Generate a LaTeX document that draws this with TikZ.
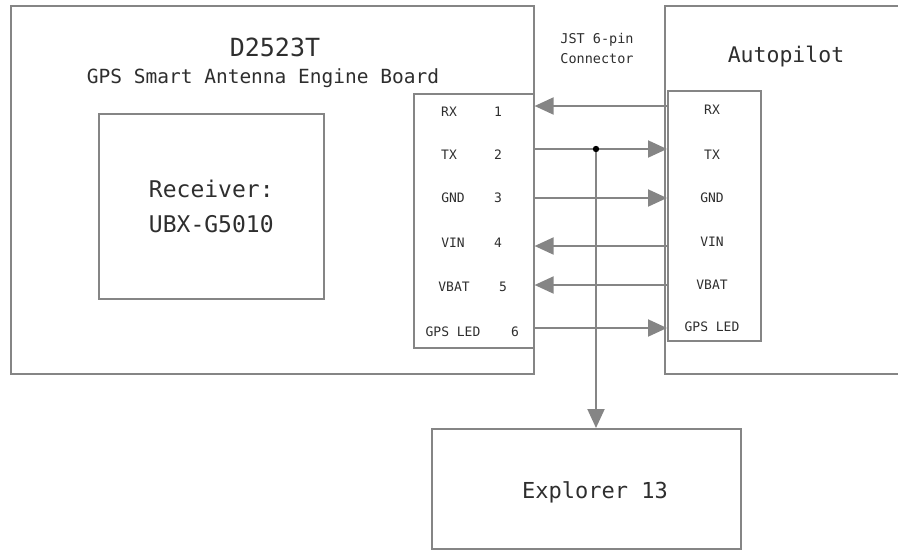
\documentclass[tikz,border=0pt]{standalone}
\usepackage{fontspec}
\setmonofont{DejaVu Sans Mono}
\usetikzlibrary{arrows.meta}
\definecolor{linegray}{HTML}{858585}
\definecolor{textgray}{HTML}{2E2E2E}

\begin{document}
\begin{tikzpicture}[x=1pt, y=-1pt, every node/.style={font=\ttfamily, text=textgray},
  box/.style={draw=linegray, line width=1.6pt, inner sep=0pt, anchor=north west},
  wire/.style={draw=linegray, line width=2pt, -{Triangle[length=19pt,width=17pt]}},
  pinlabel/.style={font=\ttfamily\fontsize{13}{15}\selectfont}]
\useasboundingbox (0,0) rectangle (898,552);
\clip (0,0) rectangle (898,552);
% boxes
\node[box, minimum width=523pt, minimum height=368pt] (board) at (10,5) {};
\node[box, minimum width=225pt, minimum height=185pt, align=center,
  font=\ttfamily\fontsize{23}{35}\selectfont] (recv) at (98,113) {Receiver:\\UBX-G5010};
\node[box, minimum width=120pt, minimum height=254pt] (pinsL) at (413,93) {};
\node[box, minimum width=260pt, minimum height=368pt] (auto) at (664,5) {};
\node[box, minimum width=93pt, minimum height=250pt] (pinsR) at (667,90) {};
\node[box, minimum width=309pt, minimum height=120pt] (expl) at (431,428) {};
% titles
\node[font=\ttfamily\fontsize{25}{30}\selectfont] (title) at (275,47) {D2523T};
\node[font=\ttfamily\fontsize{19.5}{24}\selectfont] (subtitle) at (263,78) {GPS Smart Antenna Engine Board};
\node[font=\ttfamily\fontsize{13.5}{16}\selectfont, align=center] (jst) at (597,48) {JST 6-pin\\[4pt]Connector};
\node[font=\ttfamily\fontsize{21.5}{26}\selectfont] (autotitle) at (786,57) {Autopilot};
\node[font=\ttfamily\fontsize{22}{26}\selectfont] (expltitle) at (595,492) {Explorer 13};
% pin labels
\foreach \name/\num/\xa/\xb/\ya/\yb in {RX/1/449/498/112/110, TX/2/449/498/155/155,
    GND/3/453/498/198/198, VIN/4/453/498/243/242, VBAT/5/454/503/287/285,
    GPS LED/6/453/515/332/327} {
  \node[pinlabel] at (\xa,\ya) {\name};
  \node[pinlabel] at (\xb,\ya) {\num};
  \node[pinlabel] at (712,\yb) {\name};
}
% wires
\foreach \y/\from/\to in {106/pinsR.west/pinsL.east, 149/pinsL.east/pinsR.west,
    198/pinsL.east/pinsR.west, 246/pinsR.west/pinsL.east,
    285/pinsR.west/pinsL.east, 328/pinsL.east/pinsR.west}
  \draw[wire] (\from |- 0,\y) -- (\to |- 0,\y);
\coordinate (tap) at (596,149);
\draw[wire] (tap) -- (tap |- expl.north);
\fill[black] (tap) circle (3.2);
\end{tikzpicture}
\end{document}
